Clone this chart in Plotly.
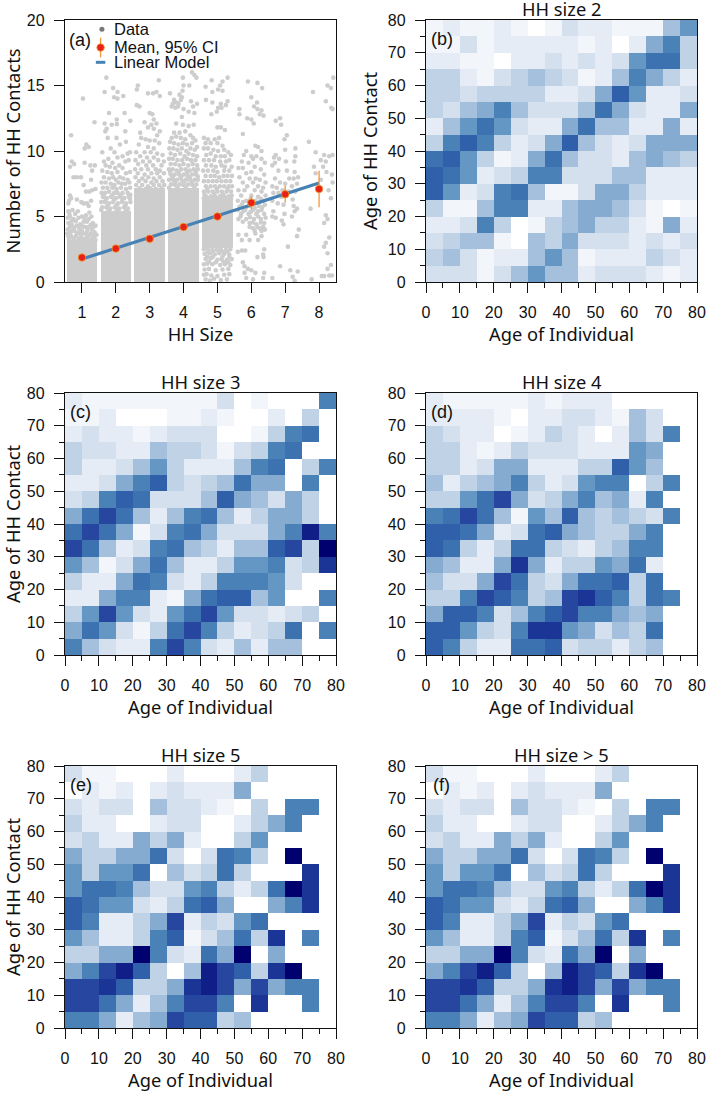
import plotly.graph_objects as go

# panel (a)
hh_sizes = [1, 2, 3, 4, 5, 6, 7, 8]
mean_contacts = [1.87, 2.55, 3.3, 4.2, 5.0, 6.05, 6.7, 7.1]
ci_halfwidth = [0.1, 0.1, 0.1, 0.12, 0.15, 0.5, 0.65, 1.4]
model_x = [1, 8]
model_y = [1.75, 7.55]

# solid part of each jitter column, too dense to read single points
core_x = [1, 2, 3, 4, 5]
core_base = [0, 0, 0, 0, 2.6]
core_height = [3.2, 5.45, 7.15, 7.15, 3.7]

col1_pts = [(1.03,14.0),(1.37,12.2),(0.68,11.2),(1.13,10.5),(1.08,10.2),(1.2,10.3),(0.7,9.2),(0.65,8.8),(0.77,9.0),(1.08,9.1),(1.25,8.9),(1.38,8.9),(1.3,8.5),(0.75,8.0),(0.85,8.0),(0.97,8.0),(1.05,7.4),(1.27,7.8),(1.12,6.9),(1.22,6.9),(1.3,7.0),(1.4,7.1),(0.65,6.6),(0.62,6.2),(0.68,6.4),(0.6,6.0),(0.85,6.3),(0.98,6.1),(1.05,6.0),(1.15,6.0),(1.27,6.2),(1.2,5.8),(0.6,5.4),(0.72,5.5),(0.8,5.2),(0.88,5.4),(0.65,5.0),(0.75,4.8),(0.58,4.9),(0.9,4.9),(1.0,5.0),(1.12,5.1),(1.22,5.3),(1.28,5.0),(1.05,4.6),(1.15,4.6),(1.32,4.5),(1.4,4.3),(0.6,4.5),(0.7,4.4),(0.85,4.3),(0.95,4.4),(1.1,4.2),(1.2,4.2),(1.3,4.0),(0.58,4.0),(0.68,3.9),(0.78,3.9),(0.9,3.8),(1.0,3.9),(1.08,3.7),(1.25,3.7),(1.37,3.8),(1.43,3.6),(0.6,3.5),(0.72,3.4),(0.82,3.5),(0.95,3.4),(1.05,3.3),(1.15,3.4),(1.3,3.3),(1.4,3.2),
    (0.64,4.2),(0.76,4.15),(0.92,4.1),(1.02,4.25),(1.16,3.95),(1.34,4.2),(0.57,3.7),(0.66,3.65),(0.86,3.7),(0.98,3.6),(1.13,3.7),(1.2,3.55),(1.33,3.55),(0.62,3.25),(0.77,3.2),(0.9,3.25),(1.0,3.15),(1.1,3.25),(1.22,3.2),(1.36,3.4),(0.7,4.7),(0.82,4.65),(1.08,4.85),(1.2,4.8),(0.63,5.2),(1.26,4.35)]

col2_pts = [(1.72,15.6),(1.67,14.5),(1.92,14.8),(2.05,14.5),(2.22,14.2),(1.95,14.1),(2.05,14.0),(1.8,12.9),(2.26,12.9),(2.43,12.3),(2.03,12.4),(1.67,12.1),(1.88,12.0),(2.03,12.05),(1.73,11.7),(1.69,11.5),(2.28,11.5),(1.76,11.0),(2.02,11.0),(2.3,10.7),(2.12,10.5),(1.85,10.2),(1.6,9.9),(1.96,9.9),(2.35,9.8),(2.42,9.9),(2.2,9.6),(2.05,9.5),(1.78,9.4),(1.65,9.2),(1.9,9.1),(2.28,9.2),(2.38,9.3),(1.7,8.9),(1.82,8.8),(1.98,8.7),(2.1,8.9),(2.2,8.7),(1.6,8.5),(1.75,8.4),(1.88,8.3),(2.05,8.4),(2.3,8.3),(2.42,8.4),(1.65,8.0),(1.8,7.9),(1.92,8.0),(2.0,7.8),(2.12,8.0),(2.22,7.9),(2.35,7.8),(1.58,7.6),(1.7,7.6),(1.85,7.5),(1.96,7.4),(2.08,7.6),(2.18,7.5),(2.28,7.5),(2.4,7.6),(1.62,7.2),(1.75,7.2),(1.9,7.2),(2.02,7.1),(2.15,7.2),(2.3,7.1),(2.42,7.2),(1.58,6.8),(1.68,6.8),(1.8,6.9),(1.95,6.8),(2.05,6.8),(2.2,6.8),(2.35,6.8),(1.62,6.5),(1.73,6.4),(1.86,6.5),(2.0,6.4),(2.12,6.5),(2.25,6.4),(2.38,6.5),(1.57,6.1),(1.68,6.1),(1.8,6.0),(1.92,6.1),(2.06,6.0),(2.18,6.1),(2.3,6.0),(2.43,6.1),(1.6,5.7),(1.72,5.7),(1.84,5.6),(1.97,5.7),(2.1,5.6),(2.24,5.7),(2.36,5.6),
    (1.64,6.65),(1.9,6.65),(2.15,6.65),(2.43,6.65),(1.7,6.25),(1.95,6.3),(2.2,6.3),(2.42,6.35),(1.76,5.85),(2.02,5.85),(2.28,5.85),(1.57,5.5),(1.78,5.45),(2.03,5.45),(2.3,5.45)]

col3_pts = [(3.27,15.4),(2.65,15.0),(2.62,14.7),(2.95,14.4),(3.1,14.4),(3.2,14.5),(3.3,14.2),(2.62,13.5),(2.7,13.4),(3.0,12.9),(3.08,12.8),(3.12,12.4),(2.85,12.2),(3.05,12.0),(3.2,12.1),(2.95,11.8),(3.12,11.7),(3.3,11.5),(2.72,11.4),(3.22,11.2),(2.75,11.0),(2.88,10.9),(3.0,10.8),(3.15,10.8),(2.68,10.5),(3.28,10.6),(2.95,10.3),(3.12,10.2),(2.6,9.9),(2.85,9.9),(3.03,9.9),(3.22,9.8),(3.38,9.7),(2.72,9.6),(2.92,9.5),(3.12,9.5),(2.58,9.3),(2.8,9.2),(3.0,9.2),(3.25,9.3),(3.42,9.2),(2.66,9.0),(2.9,8.9),(3.1,8.9),(3.35,8.9),(2.57,8.6),(2.75,8.6),(2.95,8.6),(3.18,8.6),(3.3,8.5),(2.65,8.3),(2.85,8.2),(3.05,8.3),(3.22,8.3),(3.42,8.3),(2.58,8.0),(2.78,7.9),(2.96,8.0),(3.12,7.9),(3.3,8.0),(2.68,7.7),(2.88,7.7),(3.05,7.6),(3.2,7.7),(3.38,7.7),(2.6,7.4),(2.78,7.4),(2.95,7.3),(3.12,7.4),(3.28,7.4),(3.43,7.4),(2.7,7.15),(2.88,7.1),(3.02,7.15),(3.18,7.1),(3.35,7.15)]

col4_pts = [(4.25,16.0),(4.32,15.8),(3.98,15.6),(4.38,15.6),(4.0,15.0),(4.17,15.0),(3.6,14.4),(3.88,14.3),(3.97,14.6),(3.95,14.1),(3.72,13.9),(3.68,13.6),(3.78,13.7),(3.85,13.6),(3.92,13.9),(3.65,13.4),(3.76,13.3),(3.84,13.4),(4.0,13.2),(4.22,13.8),(4.28,13.4),(4.4,13.6),(4.15,13.0),(4.32,12.9),(3.95,12.6),(3.78,12.1),(3.98,12.0),(4.15,11.9),(4.3,12.0),(3.72,11.4),(3.88,11.4),(4.05,11.5),(3.65,11.0),(3.78,11.1),(3.92,11.0),(4.05,10.9),(4.2,11.2),(4.28,11.0),(3.6,10.7),(3.72,10.6),(3.85,10.5),(3.98,10.6),(4.1,10.5),(4.25,10.6),(4.35,10.8),(3.58,10.2),(3.7,10.2),(3.82,10.1),(3.95,10.2),(4.08,10.0),(4.2,10.2),(4.33,10.1),(4.4,10.3),(3.62,9.8),(3.75,9.7),(3.9,9.8),(4.03,9.6),(4.15,9.8),(4.28,9.7),(4.4,9.6),(3.57,9.4),(3.68,9.4),(3.82,9.3),(3.96,9.3),(4.1,9.4),(4.22,9.3),(4.35,9.3),(3.62,9.0),(3.75,9.0),(3.88,8.9),(4.0,9.0),(4.14,8.9),(4.27,9.0),(4.4,8.9),(3.57,8.6),(3.68,8.6),(3.8,8.5),(3.93,8.6),(4.06,8.6),(4.18,8.5),(4.3,8.6),(4.42,8.6),(3.62,8.2),(3.74,8.2),(3.87,8.2),(4.0,8.2),(4.12,8.1),(4.25,8.2),(4.37,8.2),(3.57,7.8),(3.69,7.8),(3.81,7.8),(3.94,7.8),(4.07,7.8),(4.19,7.8),(4.32,7.8),(4.42,7.8),(3.63,7.45),(3.75,7.4),(3.88,7.45),(4.0,7.4),(4.13,7.45),(4.26,7.4),(4.38,7.45),
    (3.6,8.4),(3.85,8.4),(4.1,8.35),(4.36,8.4),(3.68,8.0),(3.92,8.0),(4.18,8.0),(4.42,8.05),(3.75,7.6),(4.0,7.6),(4.25,7.6),(3.57,7.2),(3.82,7.2),(4.07,7.2),(4.32,7.2)]

col5_pts = [(5.3,15.6),(4.83,15.4),(5.15,15.3),(5.08,15.0),(4.65,14.9),(5.02,14.7),(4.85,14.5),(5.15,14.6),(4.66,13.9),(4.85,13.7),(5.3,13.8),(5.1,13.6),(5.25,13.5),(5.02,13.3),(5.12,13.3),(4.98,13.0),(4.82,12.8),(5.0,11.8),(5.1,11.8),(5.22,11.6),(4.6,11.0),(4.72,10.9),(4.92,10.9),(5.05,11.0),(4.65,10.6),(4.8,10.6),(5.0,10.6),(5.15,10.4),(4.6,10.2),(4.72,10.2),(4.88,10.1),(5.02,10.0),(5.2,10.1),(5.32,9.9),(4.67,9.7),(4.8,9.8),(4.95,9.6),(5.1,9.6),(5.22,9.6),(5.4,9.7),(4.6,9.3),(4.75,9.3),(4.9,9.3),(5.08,9.2),(5.25,9.2),(5.35,9.3),(4.66,8.9),(4.82,8.9),(4.95,8.8),(5.12,8.9),(5.22,8.8),(5.42,8.8),(4.58,8.5),(4.72,8.5),(4.88,8.5),(5.0,8.4),(5.2,8.5),(5.35,8.5),(4.65,8.1),(4.8,8.1),(4.92,8.1),(5.05,8.0),(5.18,8.1),(5.3,8.1),(5.43,8.1),(4.6,7.7),(4.73,7.7),(4.86,7.7),(4.98,7.7),(5.12,7.7),(5.25,7.7),(5.38,7.7),(4.66,7.3),(4.8,7.3),(4.93,7.3),(5.07,7.3),(5.2,7.3),(5.33,7.3),(5.43,7.3),(4.6,6.9),(4.73,6.9),(4.86,6.9),(5.0,6.9),(5.13,6.9),(5.27,6.9),(5.4,6.9),(4.66,6.55),(4.8,6.55),(4.93,6.55),(5.07,6.55),(5.2,6.55),(5.33,6.55),
    (4.6,2.5),(4.72,2.5),(4.85,2.45),(4.98,2.5),(5.1,2.5),(5.25,2.45),(5.38,2.5),(4.62,2.15),(4.78,2.2),(4.92,2.1),(5.05,2.2),(5.2,2.15),(5.35,2.1),(4.65,1.75),(4.8,1.8),(5.0,1.7),(5.12,1.75),(5.28,1.7),(5.42,1.75),(4.6,1.35),(4.7,1.4),(4.85,1.35),(5.08,1.3),(5.22,1.35),(5.38,1.3),(4.62,0.95),(4.75,1.0),(4.95,0.9),(5.15,0.95),(5.32,1.0),(4.6,0.55),(4.68,0.6),(4.82,0.5),(5.0,0.45),(5.2,0.55),(5.35,0.6),(4.65,0.2),(4.78,0.12),(4.9,0.25),(5.1,0.15),(5.28,0.2),
    (4.7,7.1),(4.98,7.1),(5.3,7.1),(4.62,6.7),(4.9,6.75),(5.16,6.72),(5.42,6.6),(4.6,6.4),(4.72,6.35),(4.86,6.35),(5.0,6.35),(5.13,6.35),(5.27,6.35),(5.4,6.35),(4.72,2.3),(4.88,2.3),(5.03,2.35),(5.16,2.3),(5.3,2.3),(4.7,1.95),(4.86,1.9),(5.15,1.95),(5.35,1.9),(4.75,1.55),(4.95,1.5),(5.18,1.55),(5.32,1.5)]

col6_pts = [(5.9,15.3),(6.18,15.2),(6.32,14.8),(6.0,14.1),(5.65,13.2),(5.65,12.8),(6.17,13.7),(6.08,13.4),(6.18,13.2),(6.3,13.1),(6.25,12.8),(6.36,12.7),(5.88,12.5),(6.0,12.4),(6.07,12.1),(5.75,11.3),(6.12,10.4),(6.2,10.3),(5.85,10.0),(6.3,10.0),(5.78,9.7),(6.0,9.6),(6.15,9.6),(5.72,9.2),(6.05,9.4),(6.3,9.4),(5.92,9.1),(6.4,9.1),(5.62,8.7),(5.75,8.7),(6.1,8.8),(6.28,8.6),(5.85,8.3),(6.0,8.4),(6.38,8.2),(5.65,8.0),(5.95,7.9),(6.13,7.9),(6.25,7.8),(5.75,7.6),(6.05,7.6),(6.42,7.6),(5.88,7.3),(6.2,7.3),(6.35,7.2),(5.62,7.0),(5.8,7.0),(6.1,7.0),(6.3,6.9),(5.7,6.6),(6.0,6.6),(6.2,6.5),(6.42,6.6),(5.6,6.2),(5.85,6.2),(6.12,6.2),(6.35,6.2),(5.72,5.9),(5.95,5.8),(6.22,5.8),(6.4,5.9),(5.6,5.5),(5.82,5.5),(6.05,5.5),(6.3,5.5),(5.7,5.2),(5.92,5.2),(6.15,5.2),(6.38,5.2),(5.62,4.8),(5.85,4.8),(6.08,4.8),(6.28,4.8),(5.95,4.5),(6.15,4.4),(6.38,4.5),(6.05,4.1),(6.25,4.1),(6.4,4.0),(5.62,3.6),(5.85,3.6),(6.12,3.7),(6.3,3.5),(5.72,3.2),(5.95,3.2),(6.2,3.2),(5.6,2.3),(5.72,2.4),(5.82,2.4),(6.38,2.5),(6.35,2.1),(6.18,1.9),(6.36,1.9),(5.75,1.5),(5.8,1.2),(5.9,1.0),(6.0,0.9),(6.12,0.7),(6.38,0.7),(5.8,0.7),(5.85,0.3),(6.05,0.2),(6.35,0.3),
    (5.75,6.1),(5.98,6.0),(6.25,6.1),(5.65,5.75),(5.85,5.7),(6.1,5.65),(6.32,5.7),(5.76,5.4),(5.98,5.35),(6.2,5.4),(5.68,5.0),(5.96,4.95),(6.2,5.0),(6.42,4.9),(5.75,4.6),(6.05,4.55),(6.28,4.55),(5.95,4.2),(6.18,4.2),(6.35,4.2),(6.1,3.9),(6.3,3.9),(5.98,6.35),(6.28,6.35)]

col7_pts = [(6.85,12.5),(6.88,12.0),(6.72,12.3),(7.05,11.2),(6.98,10.9),(7.3,10.2),(7.0,10.1),(6.72,9.7),(7.3,9.6),(6.67,9.5),(6.82,9.4),(7.02,9.2),(6.7,9.1),(7.27,9.2),(6.62,8.9),(6.8,8.5),(7.05,8.5),(7.28,8.4),(7.38,8.0),(6.7,7.9),(7.12,7.9),(7.25,7.9),(6.85,7.6),(7.0,7.5),(7.35,7.5),(6.62,7.3),(6.75,7.2),(6.92,7.0),(7.2,7.3),(6.65,6.8),(6.8,6.8),(7.1,6.9),(7.3,6.9),(6.9,6.5),(7.22,6.3),(6.62,6.2),(6.78,6.0),(6.95,5.9),(7.25,5.8),(7.35,5.6),(6.65,5.4),(6.98,5.2),(7.28,5.4),(6.62,5.0),(6.72,4.9),(6.9,4.7),(7.2,5.0),(6.95,4.4),(7.4,4.0),(7.35,3.5),(7.08,2.7),(6.85,1.2),(7.15,0.9),(7.37,0.8),(6.62,0.3),(7.22,0.4),(7.28,0.1)]

col8_pts = [(7.82,14.5),(8.25,15.0),(8.35,14.8),(8.42,15.6),(8.2,13.8),(8.36,13.3),(8.4,13.2),(7.7,10.7),(7.9,9.9),(8.15,9.7),(8.3,9.6),(8.4,9.7),(8.2,9.2),(8.05,9.3),(7.85,8.8),(8.12,8.8),(8.22,8.4),(8.38,8.2),(7.9,8.3),(8.05,7.8),(8.4,7.6),(8.28,7.0),(8.35,6.4),(7.75,5.6),(8.2,5.1),(8.25,4.8),(8.15,4.5),(8.3,3.4),(8.2,3.0),(8.15,2.7),(8.25,2.2),(8.35,1.3),(8.25,1.0),(7.78,0.2),(8.08,0.45),(8.15,0.45),(8.3,0.5),(8.38,0.5)]

# heatmaps: colour levels 0-14, rows listed from the top row (75-80) down
age_edges = [0, 5, 10, 15, 20, 25, 30, 35, 40, 45, 50, 55, 60, 65, 70, 75, 80]
age_ticks = [0, 10, 20, 30, 40, 50, 60, 70, 80]

hh_size_2 = [
    [1,2,1,1,2,1,0,1,3,2,2,1,1,1,5,7],
    [1,1,3,1,2,2,2,2,2,1,2,0,2,6,8,4],
    [2,2,1,1,0,2,2,3,2,3,2,3,7,9,9,4],
    [4,4,2,1,3,4,5,4,3,1,2,5,8,6,4,2],
    [4,4,3,4,4,4,4,2,2,3,6,10,7,2,2,3],
    [4,3,5,6,8,5,3,3,3,5,9,6,3,2,2,6],
    [2,5,7,9,7,3,2,2,6,9,5,5,2,2,6,2],
    [4,8,10,8,4,2,3,6,10,5,3,2,3,6,6,6],
    [9,10,7,4,1,2,6,9,5,3,3,2,5,6,5,4],
    [10,9,7,2,3,4,8,8,3,3,3,5,5,2,2,2],
    [10,7,2,3,8,9,5,1,1,3,6,6,4,2,2,2],
    [4,1,1,5,8,8,2,2,5,6,6,5,3,1,0,1],
    [2,2,3,8,4,0,1,4,5,6,4,4,2,1,6,2],
    [3,4,5,5,1,0,5,4,6,3,3,3,2,3,2,3],
    [4,5,3,1,2,2,5,7,5,1,2,2,2,4,3,2],
    [3,3,3,1,3,5,7,5,5,2,3,3,3,2,1,2],
]
hh_size_3 = [
    [2,1,1,1,1,1,1,1,1,3,0,1,0,0,0,8],
    [1,1,2,0,0,0,1,1,2,1,0,0,2,0,4,0],
    [2,3,2,2,1,2,3,3,3,0,0,1,4,8,9,0],
    [4,3,3,2,2,5,4,4,3,1,3,4,8,9,0,0],
    [4,2,2,3,5,7,4,2,2,2,5,8,9,0,4,8],
    [2,2,3,6,8,10,4,3,4,5,9,6,6,0,8,0],
    [3,4,8,10,9,3,3,3,5,10,6,5,3,6,4,0],
    [6,9,11,9,5,2,5,8,9,5,2,4,6,6,4,0],
    [9,11,9,6,1,3,8,9,6,3,3,3,6,8,13,8],
    [11,9,5,2,3,8,9,5,4,2,5,5,10,11,4,14],
    [7,5,1,3,6,9,5,2,2,4,7,7,8,3,4,12],
    [4,2,2,6,9,8,3,2,4,8,8,8,7,3,0,0],
    [2,2,6,8,8,2,1,6,9,10,10,5,7,0,0,8],
    [4,7,11,7,3,2,7,9,11,7,3,3,2,3,4,0],
    [6,9,7,3,1,4,9,11,8,4,2,3,4,9,0,8],
    [8,5,3,2,2,8,11,8,3,2,5,2,5,5,0,0],
]
hh_size_4 = [
    [2,1,1,1,1,1,2,1,2,2,2,0,0,0,0,0],
    [2,2,2,2,1,0,2,2,3,3,2,1,5,3,0,0],
    [4,3,2,2,0,1,2,4,3,2,0,2,5,3,8,0],
    [4,4,2,1,2,4,3,3,3,2,2,2,7,6,0,0],
    [4,4,2,3,6,6,2,2,2,4,4,10,7,5,0,0],
    [5,2,4,5,6,8,4,2,3,7,8,8,0,4,8,0],
    [4,4,7,9,11,6,3,4,6,8,5,6,2,8,0,0],
    [8,9,11,9,5,1,7,5,10,5,4,5,4,3,8,0],
    [10,10,9,6,2,3,9,10,6,5,4,4,6,8,0,0],
    [10,9,4,2,4,9,9,4,3,2,4,5,8,8,0,0],
    [6,5,2,2,6,12,6,2,4,4,7,6,9,2,0,0],
    [5,3,3,6,11,9,4,3,6,9,9,10,4,9,0,0],
    [4,4,8,11,10,8,4,5,11,12,10,8,4,9,8,0],
    [6,10,10,8,3,5,8,10,11,8,8,6,5,6,0,0],
    [10,10,7,4,3,8,12,12,7,6,3,5,4,9,0,0],
    [10,8,4,2,2,9,9,10,3,4,4,2,4,5,0,0],
]
hh_size_5 = [
    [3,1,1,0,0,0,2,0,0,0,2,4,0,0,0,0],
    [0,2,1,2,0,2,3,2,2,2,6,0,0,0,0,0],
    [3,2,3,3,0,5,3,3,2,1,0,4,0,8,8,0],
    [4,2,2,0,0,2,3,3,0,0,2,4,6,8,0,0],
    [3,4,2,2,6,4,6,2,0,0,4,7,0,0,0,0],
    [6,4,4,6,6,9,3,0,3,9,8,4,0,14,0,0],
    [7,4,7,7,9,0,5,3,4,9,4,0,0,0,12,0],
    [7,9,9,8,5,3,3,7,8,4,2,4,9,14,12,0],
    [10,9,7,7,3,2,4,9,10,6,0,0,6,8,12,0],
    [10,8,2,2,4,6,11,2,4,3,7,9,0,0,0,0],
    [7,5,2,2,4,8,10,1,3,5,9,4,12,0,8,0],
    [4,4,6,6,14,8,3,2,9,6,14,0,6,0,0,0],
    [6,8,11,13,10,4,0,5,13,11,10,4,12,14,0,0],
    [11,11,12,10,4,4,6,12,13,11,6,11,6,8,8,0],
    [11,11,9,6,2,5,8,11,11,8,0,12,0,0,8,0],
    [8,8,6,2,5,6,11,10,10,4,5,0,0,0,0,0],
]
hh_size_gt5 = hh_size_5

level_colors = ["#ffffff", "#f2f5fa", "#e5ecf5", "#d4e0ee", "#bfd2e6", "#a5c0dc", "#85abd0",
                "#6497c3", "#4a82b8", "#3d72b1", "#3160aa", "#27469f", "#1b3596", "#101f88", "#00006e"]
colorscale = [[i / 14, c] for i, c in enumerate(level_colors)]

W, H = 706, 1093
LABEL = "Liberation Sans"
TITLE = "Noto Sans"
BLACK = "#111111"


def dom_x(a, b):
    return [a / W, b / W]


def dom_y(top, bottom):
    return [1 - bottom / H, 1 - top / H]


panels = [
    ("2", (426, 697), (20, 282), hh_size_2, "HH size 2", "(b)", 0.8),
    ("3", (65, 336), (393, 655), hh_size_3, "HH size 3", "(c)", 0.8),
    ("4", (426, 697), (393, 655), hh_size_4, "HH size 4", "(d)", 0.8),
    ("5", (65, 336), (766, 1028), hh_size_5, "HH size 5", "(e)", 0.8),
    ("6", (426, 697), (766, 1028), hh_size_gt5, "HH size > 5", "(f)", 1.6),
]

fig = go.Figure()

# panel (a) marks
fig.add_trace(go.Bar(x=core_x, y=core_height, base=core_base, width=0.9,
                     marker=dict(color="#cdcdcd", line=dict(width=0)), showlegend=False, hoverinfo="skip"))
all_pts = col1_pts + col2_pts + col3_pts + col4_pts + col5_pts + col6_pts + col7_pts + col8_pts
fig.add_trace(go.Scatter(x=[p[0] for p in all_pts], y=[p[1] for p in all_pts], mode="markers",
                         marker=dict(color="#cdcdcd", size=4.6), showlegend=False))
fig.add_trace(go.Scatter(x=model_x, y=model_y, mode="lines", line=dict(color="#4682b4", width=3.2), showlegend=False))
fig.add_trace(go.Scatter(x=hh_sizes, y=mean_contacts, mode="markers",
                         error_y=dict(type="data", array=ci_halfwidth, color="#f0973a", thickness=1.3, width=0),
                         marker=dict(color="#e8201a", size=7.5, line=dict(color="#f59a23", width=0.8)),
                         showlegend=False))

# legend keys of panel (a)
fig.add_trace(go.Scatter(x=[1.59], y=[19.3], mode="markers", marker=dict(color="#777777", size=5), showlegend=False))
fig.add_trace(go.Scatter(x=[1.41, 1.69], y=[16.77, 16.77], mode="lines", line=dict(color="#4682b4", width=3), showlegend=False))
fig.add_trace(go.Scatter(x=[1.55], y=[17.9], mode="markers",
                         error_y=dict(type="data", array=[0.75], color="#f0973a", thickness=1.3, width=0),
                         marker=dict(color="#e8201a", size=7.5, line=dict(color="#f59a23", width=0.8)),
                         showlegend=False))

# heatmap panels
for idx, xy, yy, grid, title, tag, tag_x in panels:
    fig.add_trace(go.Heatmap(x=age_edges, y=age_edges, z=grid[::-1], zmin=0, zmax=14,
                             colorscale=colorscale, showscale=False, xaxis="x" + idx, yaxis="y" + idx))

axis_common = dict(automargin=False, showgrid=False, zeroline=False, showline=True, linecolor=BLACK, linewidth=1.3, mirror=True,
                   ticks="outside", ticklen=10, tickwidth=1.3, tickcolor=BLACK,
                   tickfont=dict(family=LABEL, size=16, color=BLACK))
title_font = dict(family=TITLE, size=18.3, color=BLACK)
legend_font = dict(family=LABEL, size=16.5, color=BLACK)
tag_font = dict(family=LABEL, size=18, color=BLACK)

layout = dict(
    width=W, height=H, margin=dict(l=0, r=0, t=0, b=0), paper_bgcolor="white", plot_bgcolor="white",
    showlegend=False, barmode="overlay", bargap=0,
    xaxis=dict(axis_common, domain=dom_x(65, 336), range=[0.5, 8.5], tickvals=hh_sizes, ticklabelstandoff=6,
               title=dict(text="HH Size", font=title_font, standoff=4)),
    yaxis=dict(axis_common, domain=dom_y(20, 282), range=[0, 20], tickvals=[0, 5, 10, 15, 20], ticklabelstandoff=6,
               title=dict(text="Number of HH Contacts", font=title_font, standoff=5)),
)
annotations = [
    dict(x=0.57, y=18.5, xref="x", yref="y", text="(a)", showarrow=False, xanchor="left", font=tag_font),
    dict(x=1.88, y=19.3, xref="x", yref="y", text="Data", showarrow=False, xanchor="left", font=legend_font),
    dict(x=1.88, y=17.95, xref="x", yref="y", text="Mean, 95% CI", showarrow=False, xanchor="left", font=legend_font),
    dict(x=1.88, y=16.8, xref="x", yref="y", text="Linear Model", showarrow=False, xanchor="left", font=legend_font),
]

minor_ticks = dict(dtick=5, tick0=0, ticks="outside", ticklen=5, tickwidth=1.3, tickcolor=BLACK)
for idx, xy, yy, grid, title, tag, tag_x in panels:
    layout["xaxis" + idx] = dict(axis_common, domain=dom_x(*xy), range=[0, 80], anchor="y" + idx, tickvals=age_ticks,
                                 ticklabelstandoff=6, minor=minor_ticks,
                                 title=dict(text="Age of Individual", font=title_font, standoff=4))
    layout["yaxis" + idx] = dict(axis_common, domain=dom_y(*yy), range=[0, 80], anchor="x" + idx, tickvals=age_ticks,
                                 ticklabelstandoff=6, minor=minor_ticks,
                                 title=dict(text="" if idx in ("4", "6") else "Age of HH Contact", font=title_font, standoff=5))
    annotations.append(dict(x=sum(xy) / 2 / W, y=1 - (yy[0] - 11.5) / H, xref="paper", yref="paper", text=title,
                            showarrow=False, xanchor="center", yanchor="middle", font=title_font))
    annotations.append(dict(x=tag_x, y=74.2, xref="x" + idx, yref="y" + idx, text=tag, showarrow=False, xanchor="left",
                            font=tag_font))

layout["annotations"] = annotations
fig.update_layout(**layout)
fig.write_html("out.html", config={"displayModeBar": False}, post_script="document.body.style.margin='0'")
